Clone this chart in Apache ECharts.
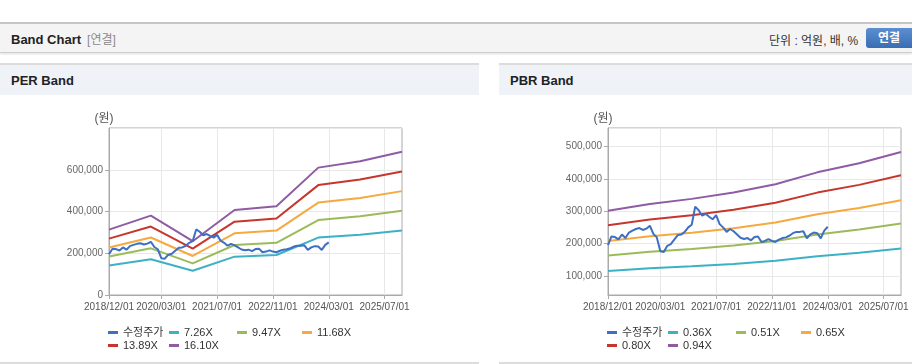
<!DOCTYPE html>
<html>
<head>
<meta charset="utf-8">
<script src="https://cdn.jsdelivr.net/npm/echarts@6/dist/echarts.min.js"></script>
<style>
  body { margin: 0; width: 912px; height: 364px; background: #fff; overflow: hidden;
         font-family: "Liberation Sans", "Noto Sans CJK KR", sans-serif; position: relative; }
  .abs { position: absolute; }
  #topline { left: 0; top: 22px; width: 912px; height: 2px; background: #c4c4c4; }
  #head { left: 0; top: 24px; width: 912px; height: 28px; background: #f4f4f4;
          border-bottom: 1px solid #cfcfcf; box-shadow: 0 1px 2px #ddd; }
  #title { left: 11px; top: 30px; font-size: 13px; font-weight: bold; color: #222; }
  #title span { font-weight: normal; color: #8a8a8a; font-size: 12px; margin-left: 6px; }
  #unit { left: 769px; top: 31px; font-size: 12px; color: #333; }
  #btn { left: 866px; top: 28px; width: 52px; height: 20px; border-radius: 3px;
         background: linear-gradient(#5b8fd0, #3a6db4); color: #fff; font-weight: bold;
         font-size: 12px; line-height: 20px; text-indent: 12px; }
  .ph { top: 63px; height: 30px; background: #eff3f8; border-top: 2px solid #dcdcdc; }
  .ph div { position: absolute; left: 11px; top: 8px; font-size: 13px; font-weight: bold; color: #222; }
  .pb { top: 362px; height: 2px; background: #dcdcdc; }
  .chart { top: 94px; height: 268px; }
</style>
</head>
<body>
<div class="abs" id="topline"></div>
<div class="abs" id="head"></div>
<div class="abs" id="title">Band Chart<span>[연결]</span></div>
<div class="abs" id="unit">단위 : 억원, 배, %</div>
<div class="abs" id="btn">연결</div>

<div class="abs ph" style="left:0;width:479px"><div>PER Band</div></div>
<div class="abs ph" style="left:499px;width:413px"><div>PBR Band</div></div>
<div class="abs chart" id="perChart" style="left:0;width:479px"></div>
<div class="abs chart" id="pbrChart" style="left:499px;width:413px"></div>
<div class="abs pb" style="left:0;width:479px"></div>
<div class="abs pb" style="left:499px;width:413px"></div>

<script>
// monthly categories 2018/12/01 .. 2025/12/01
var months = [];
for (var y = 2018, mo = 12; y < 2026; ) {
    months.push(y + '/' + (mo < 10 ? '0' + mo : mo) + '/01');
    if (y == 2025 && mo == 12) break;
    mo++;
    if (mo > 12) { mo = 1; y++; }
}
var tickLabels = ['2018/12/01', '2020/03/01', '2021/07/01', '2022/11/01', '2024/03/01', '2025/07/01'];

// 수정주가 (monthly, from 2018/12)
var price = [195000, 222000, 220000, 213000, 228000, 217000, 234000, 240000, 245000, 248000, 242000, 246000,
    255000, 230000, 219000, 176000, 174000, 193000, 198000, 212000, 226000, 228000, 236000, 250000,
    258000, 314000, 303000, 286000, 292000, 283000, 275000, 288000, 260000, 250000, 236000, 245000,
    238000, 228000, 218000, 214000, 217000, 210000, 220000, 222000, 205000, 208000, 214000, 208000,
    205000, 212000, 217000, 219000, 224000, 232000, 236000, 236000, 238000, 216000, 228000, 234000,
    232000, 216000, 240000, 252000];

// band values at year ends
var bandMonths = ['2018/12/01', '2019/12/01', '2020/12/01', '2021/12/01', '2022/12/01', '2023/12/01', '2024/12/01', '2025/12/01'];

var perNames = ['수정주가', '7.26X', '9.47X', '11.68X', '13.89X', '16.10X'];
var per726 = [141200, 171300, 116200, 183700, 191700, 275200, 288900, 309300];
var per947 = [184200, 223500, 151500, 239600, 250000, 358900, 376900, 403400];
var per1168 = [227200, 275600, 186900, 295500, 308400, 442700, 464900, 497600];
var per1389 = [270200, 327800, 222200, 351400, 366700, 526400, 552800, 591700];
var per1610 = [313100, 380000, 257600, 407300, 425000, 610200, 640800, 685900];

var pbrNames = ['수정주가', '0.36X', '0.51X', '0.65X', '0.80X', '0.94X'];
var pbr036 = [115300, 123300, 129500, 137100, 146700, 160800, 171600, 185000];
var pbr051 = [163300, 174700, 183400, 194300, 207800, 227900, 243100, 262000];
var pbr065 = [208100, 222700, 233700, 247600, 264800, 290400, 309800, 334000];
var pbr080 = [256200, 274100, 287700, 304700, 325900, 357400, 381300, 411000];
var pbr094 = [301000, 322000, 338000, 358000, 383000, 420000, 448000, 483000];

var colors = ['#3d6fc2', '#3cb1c6', '#9bbb59', '#f5a93f', '#c6362c', '#8f5ba3'];
var fontFamily = '"Liberation Sans", "Noto Sans CJK KR", sans-serif';

function pairs(vals) {
    return vals.map(function (v, i) { return [bandMonths[i], v]; });
}

function showTick(idx, val) {
    return tickLabels.indexOf(months[idx]) >= 0;
}

function makeLegends(names) {
    var lefts = [108, 169, 237, 302, 108, 169];
    var tops = [233, 233, 233, 233, 246, 246];
    return names.map(function (n, i) {
        return {
            data: [n], left: lefts[i], top: tops[i], padding: 0,
            icon: 'rect', itemWidth: 10, itemHeight: 3,
            textStyle: {fontSize: 11, color: '#333', fontFamily: fontFamily}
        };
    });
}

function makeOption(names, bands, yMin, yMax, yInterval) {
    var series = [{
        name: names[0], type: 'line', data: price, showSymbol: false,
        lineStyle: {width: 2, color: colors[0]}, itemStyle: {color: colors[0]}, z: 5
    }];
    bands.forEach(function (b, i) {
        series.push({
            name: names[i + 1], type: 'line', data: pairs(b), showSymbol: false,
            lineStyle: {width: 2, color: colors[i + 1]}, itemStyle: {color: colors[i + 1]}
        });
    });
    var yAxis = {
        type: 'value', min: yMin, max: yMax,
        name: '(원)', nameLocation: 'end', nameGap: 3,
        nameTextStyle: {color: '#555', fontSize: 12, fontFamily: fontFamily, padding: [0, 10, 0, 0]},
        axisLine: {show: true, lineStyle: {color: '#aaa'}},
        axisTick: {show: true, length: 4, lineStyle: {color: '#aaa'}},
        axisLabel: {
            color: '#666', fontSize: 10, fontFamily: fontFamily, margin: 6,
            showMinLabel: yMin == 0, showMaxLabel: false,
            formatter: function (v) { return v.toLocaleString('en-US'); }
        },
        splitLine: {lineStyle: {color: '#e8e8e8'}}
    };
    if (yInterval) yAxis.interval = yInterval;
    return {
        animation: false,
        color: colors,
        legend: makeLegends(names),
        grid: {left: 109, top: 34, width: 293, height: 167, show: true, borderColor: '#aaa', borderWidth: 1},
        xAxis: {
            type: 'category', data: months, boundaryGap: false,
            axisLine: {lineStyle: {color: '#aaa'}},
            axisTick: {length: 4, interval: showTick, lineStyle: {color: '#aaa'}},
            axisLabel: {interval: showTick, showMinLabel: true, color: '#555', fontSize: 10, fontFamily: fontFamily, margin: 7},
            splitLine: {show: true, interval: showTick, lineStyle: {color: '#e8e8e8'}}
        },
        yAxis: yAxis,
        series: series
    };
}

var perChart = echarts.init(document.getElementById('perChart'));
perChart.setOption(makeOption(perNames, [per726, per947, per1168, per1389, per1610], 0, 800000, 200000));

var pbrChart = echarts.init(document.getElementById('pbrChart'));
pbrChart.setOption(makeOption(pbrNames, [pbr036, pbr051, pbr065, pbr080, pbr094], 41000, 557000, null));
</script>
</body>
</html>
